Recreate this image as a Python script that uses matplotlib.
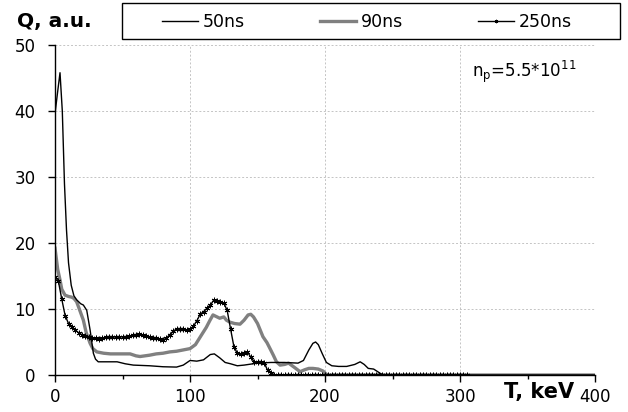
import numpy as np
import matplotlib
matplotlib.use("Agg")
import matplotlib.pyplot as plt
from matplotlib.patches import Rectangle

plt.rcParams['font.family'] = ['DejaVu Sans']

# 50 ns pulse
t_50 = [0, 2, 3.7, 5.4, 7, 8.5, 10, 12, 14, 16, 19, 21, 23.5, 26, 28.4, 30, 32, 40, 46,
        52, 58, 70, 80, 90, 95, 100, 105, 110, 115, 118, 122, 126, 130, 135, 140, 150,
        160, 170, 180, 184, 188, 191, 193, 195, 198, 201, 205, 210, 216, 222, 226, 229,
        232, 236, 239, 242, 245, 300, 400]
q_50 = [39.6, 43.0, 45.8, 40.0, 29.0, 22.0, 17.0, 13.6, 12.0, 11.4, 10.8, 10.6, 9.8, 6.8,
        3.3, 2.4, 2.0, 2.0, 2.0, 1.7, 1.5, 1.4, 1.25, 1.2, 1.5, 2.2, 2.1, 2.3, 3.1, 3.2,
        2.6, 1.9, 1.7, 1.4, 1.5, 1.8, 1.9, 1.9, 1.8, 2.2, 3.8, 4.8, 5.0, 4.6, 3.2, 1.9,
        1.4, 1.3, 1.3, 1.6, 2.0, 1.6, 1.0, 0.9, 0.5, 0.1, 0.0, 0.0, 0.0]

# 90 ns pulse
t_90 = [0, 2, 3.7, 5, 7.4, 10, 12.3, 14, 16, 18, 21, 23, 26, 28, 31, 36, 41, 50, 55.6,
        60, 63, 70, 75, 80, 85, 90, 95, 100, 104, 108.6, 112, 114.8, 117, 119, 122, 125,
        127, 129.6, 133, 137, 140, 143, 145, 147, 150, 154, 157, 159, 161.7, 164, 166.7,
        170, 173, 177, 181.5, 185, 188, 191, 195, 198.5, 201, 203, 300, 400]
q_90 = [19.2, 16.0, 14.4, 13.0, 12.1, 11.9, 11.8, 11.6, 11.1, 10.0, 8.3, 6.5, 4.8, 4.0,
        3.5, 3.3, 3.2, 3.2, 3.2, 2.9, 2.8, 3.0, 3.2, 3.3, 3.5, 3.6, 3.8, 4.0, 4.6, 6.1,
        7.2, 8.3, 9.1, 8.9, 8.6, 8.8, 8.3, 8.0, 7.8, 7.7, 8.3, 9.1, 9.2, 8.8, 7.8, 5.8,
        4.9, 4.1, 3.0, 2.0, 1.5, 1.6, 1.8, 1.2, 0.5, 0.8, 1.0, 1.0, 0.9, 0.6, 0.1, 0.0,
        0.0, 0.0]

# 250 ns pulse, sampled every 2.5 keV
t_250 = np.arange(0, 307.5, 2.5)
q_250 = [14.9, 14.2, 11.5, 9.0, 7.8, 7.2, 6.8, 6.4, 6.1, 5.9,
         5.7, 5.6, 5.55, 5.5, 5.6, 5.7, 5.8, 5.7, 5.8, 5.75,
         5.8, 5.7, 5.9, 6.0, 6.1, 6.2, 6.0, 5.9, 5.8, 5.6,
         5.55, 5.4, 5.3, 5.6, 6.1, 6.6, 7.0, 7.0, 6.9, 6.8,
         6.9, 7.4, 8.2, 9.2, 9.6, 10.1, 10.6, 11.3, 11.2, 11.0,
         10.9, 9.8, 7.0, 4.3, 3.3, 3.2, 3.4, 3.5, 2.7, 2.0,
         1.9, 1.9, 1.8, 0.7, 0.3, 0.05, 0.0, 0.0, 0.0, 0.0,
         0.0, 0.0, 0.0, 0.0, 0.0, 0.0, 0.0, 0.0, 0.0, 0.0,
         0.0, 0.0, 0.0, 0.0, 0.0, 0.0, 0.0, 0.0, 0.0, 0.0,
         0.0, 0.0, 0.0, 0.0, 0.0, 0.0, 0.0, 0.0, 0.0, 0.0,
         0.0, 0.0, 0.0, 0.0, 0.0, 0.0, 0.0, 0.0, 0.0, 0.0,
         0.0, 0.0, 0.0, 0.0, 0.0, 0.0, 0.0, 0.0, 0.0, 0.0,
         0.0, 0.0, 0.0]

x_ticks = [0, 100, 200, 300, 400]
y_ticks = [0, 10, 20, 30, 40, 50]

fig = plt.figure(figsize=(6.28, 4.12), dpi=100)
ax = fig.add_axes([0.0876, 0.0898, 0.86, 0.801])

ax.plot(t_90, q_90, color='#808080', lw=2.4, label='90ns', zorder=2)
ax.plot(t_50, q_50, color='black', lw=1.0, label='50ns', zorder=3)
ax.plot(t_250, q_250, color='black', lw=1.0, marker=(6, 2, 0), ms=4, mew=0.7,
        label='250ns', zorder=4)

ax.set_xlim(0, 400)
ax.set_ylim(0, 50)
ax.set_xticks(x_ticks)
ax.set_xticks([50, 150, 250, 350], minor=True)
ax.set_yticks(y_ticks)
ax.tick_params(axis='both', direction='out', length=5, width=1, labelsize=12, pad=4)
ax.tick_params(axis='y', pad=9)
ax.tick_params(axis='x', which='minor', direction='out', length=3, width=1)
ax.set_xticklabels(['0', '100', '200', '300', '400'])
ax.grid(True, which='major', color='#c4c4c4', lw=0.7, ls=(0, (2, 2)))
ax.set_axisbelow(True)
for side in ('top', 'right'):
    ax.spines[side].set_visible(False)
for side in ('left', 'bottom'):
    ax.spines[side].set_linewidth(1.0)

# axis captions sit outside the plot area
fig.text(0.027, 0.947, 'Q, a.u.', fontsize=14.5, fontweight='bold', va='center', ha='left')
ax.text(0.962, -0.052, 'T, keV', transform=ax.transAxes, fontsize=15,
        fontweight='bold', va='center', ha='right')
ax.text(0.772, 0.918, r'n$_\mathregular{p}$=5.5*10$^\mathregular{11}$', transform=ax.transAxes,
        fontsize=12, va='center', ha='left')

# legend row above the plot with its own box
handles, labels = ax.get_legend_handles_labels()
order = [1, 0, 2]
leg = fig.legend([handles[i] for i in order], [labels[i] for i in order],
                 loc='center left', ncol=3, bbox_to_anchor=(162 / 628, 1 - 22 / 412),
                 fontsize=12.5, frameon=False, handlelength=2.07, handletextpad=0.3,
                 columnspacing=4.3, borderpad=0, borderaxespad=0, markerscale=0.6)
fig.patches.append(Rectangle((122 / 628, 1 - 39 / 412), 498 / 628, 36 / 412,
                             transform=fig.transFigure, fill=False,
                             edgecolor='black', lw=1.0))

fig.savefig('out.png', dpi=100)
